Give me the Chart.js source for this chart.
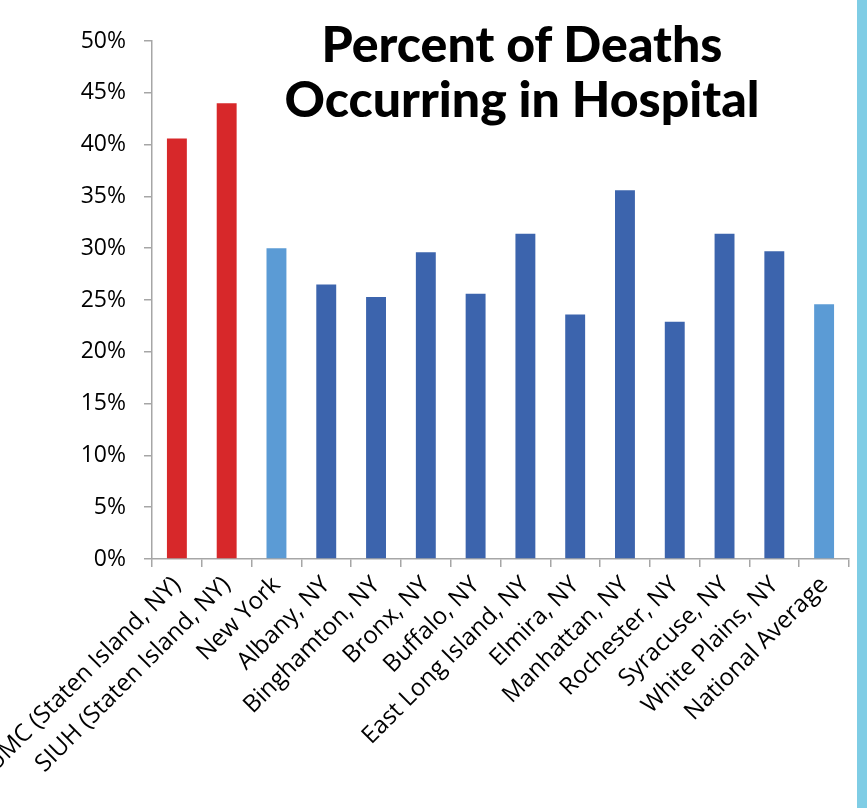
<!DOCTYPE html>
<html>
<head>
<meta charset="utf-8">
<script src="https://cdn.jsdelivr.net/npm/chart.js@4/dist/chart.umd.min.js"></script>
<style>
    body { margin: 0; background: #fff; }
    #wrap { position: relative; width: 867px; height: 808px; overflow: hidden; }
    #chart { position: absolute; left: 0; top: 0; }
    #title {
        position: absolute; left: 522px; top: 16px; transform: translateX(-50%);
        font-family: Lato, sans-serif; font-weight: 900; font-size: 50px;
        line-height: 55px; text-align: center; white-space: nowrap; color: #000;
    }
    #stripe { position: absolute; left: 857px; top: 0; width: 10px; height: 808px; background: #7fcde5; }
</style>
</head>
<body>
<div id="wrap">
    <canvas id="chart" width="867" height="808"></canvas>
    <div id="title">Percent of Deaths<br>Occurring in Hospital</div>
    <div id="stripe"></div>
</div>
<script>
const categories = [
    'SUMC (Staten Island, NY)', 'SIUH (Staten Island, NY)', 'New York', 'Albany, NY',
    'Binghamton, NY', 'Bronx, NY', 'Buffalo, NY', 'East Long Island, NY', 'Elmira, NY',
    'Manhattan, NY', 'Rochester, NY', 'Syracuse, NY', 'White Plains, NY', 'National Average'
];
const percentInHospital = [40.6, 44.0, 30.0, 26.5, 25.3, 29.6, 25.6, 31.4, 23.6, 35.6, 22.9, 31.4, 29.7, 24.6];
const barKind = ['local', 'local', 'state', 'region', 'region', 'region', 'region', 'region',
    'region', 'region', 'region', 'region', 'region', 'state'];
const yTicks = [0, 5, 10, 15, 20, 25, 30, 35, 40, 45, 50];

const kindColors = { local: '#d7282a', state: '#5b9bd5', region: '#3c64ad' };
const axisColor = '#a6a6a6';

new Chart(document.getElementById('chart'), {
    type: 'bar',
    data: {
        labels: categories,
        datasets: [{
            data: percentInHospital,
            backgroundColor: barKind.map(function (k) { return kindColors[k]; }),
            barPercentage: 0.8,
            categoryPercentage: 0.5
        }]
    },
    options: {
        responsive: false,
        animation: false,
        layout: { padding: { top: 41, right: 18, bottom: 0, left: 0 } },
        plugins: { legend: { display: false }, tooltip: { enabled: false } },
        scales: {
            x: {
                grid: { drawOnChartArea: false, color: axisColor, tickLength: 8, lineWidth: 1.5 },
                border: { color: axisColor, width: 1.5 },
                ticks: {
                    autoSkip: false, maxRotation: 45, minRotation: 45, padding: 4,
                    color: '#000', font: { family: 'Open Sans', size: 24 }
                },
                afterFit: function (scale) {
                    scale.height = 808 - 559;
                    scale.paddingLeft = 0;
                    scale.paddingRight = 0;
                }
            },
            y: {
                min: 0,
                max: 50,
                afterBuildTicks: function (scale) {
                    scale.ticks = yTicks.map(function (v) { return { value: v }; });
                },
                grid: { drawOnChartArea: false, color: axisColor, tickLength: 8, lineWidth: 1.5 },
                border: { color: axisColor, width: 1.5 },
                ticks: {
                    padding: 18, color: '#000', font: { family: 'Open Sans', size: 23 },
                    callback: function (v) { return v + '%'; }
                },
                afterFit: function (scale) {
                    scale.width = 152;
                    scale.paddingTop = 0;
                    scale.paddingBottom = 0;
                }
            }
        }
    }
});
</script>
</body>
</html>
